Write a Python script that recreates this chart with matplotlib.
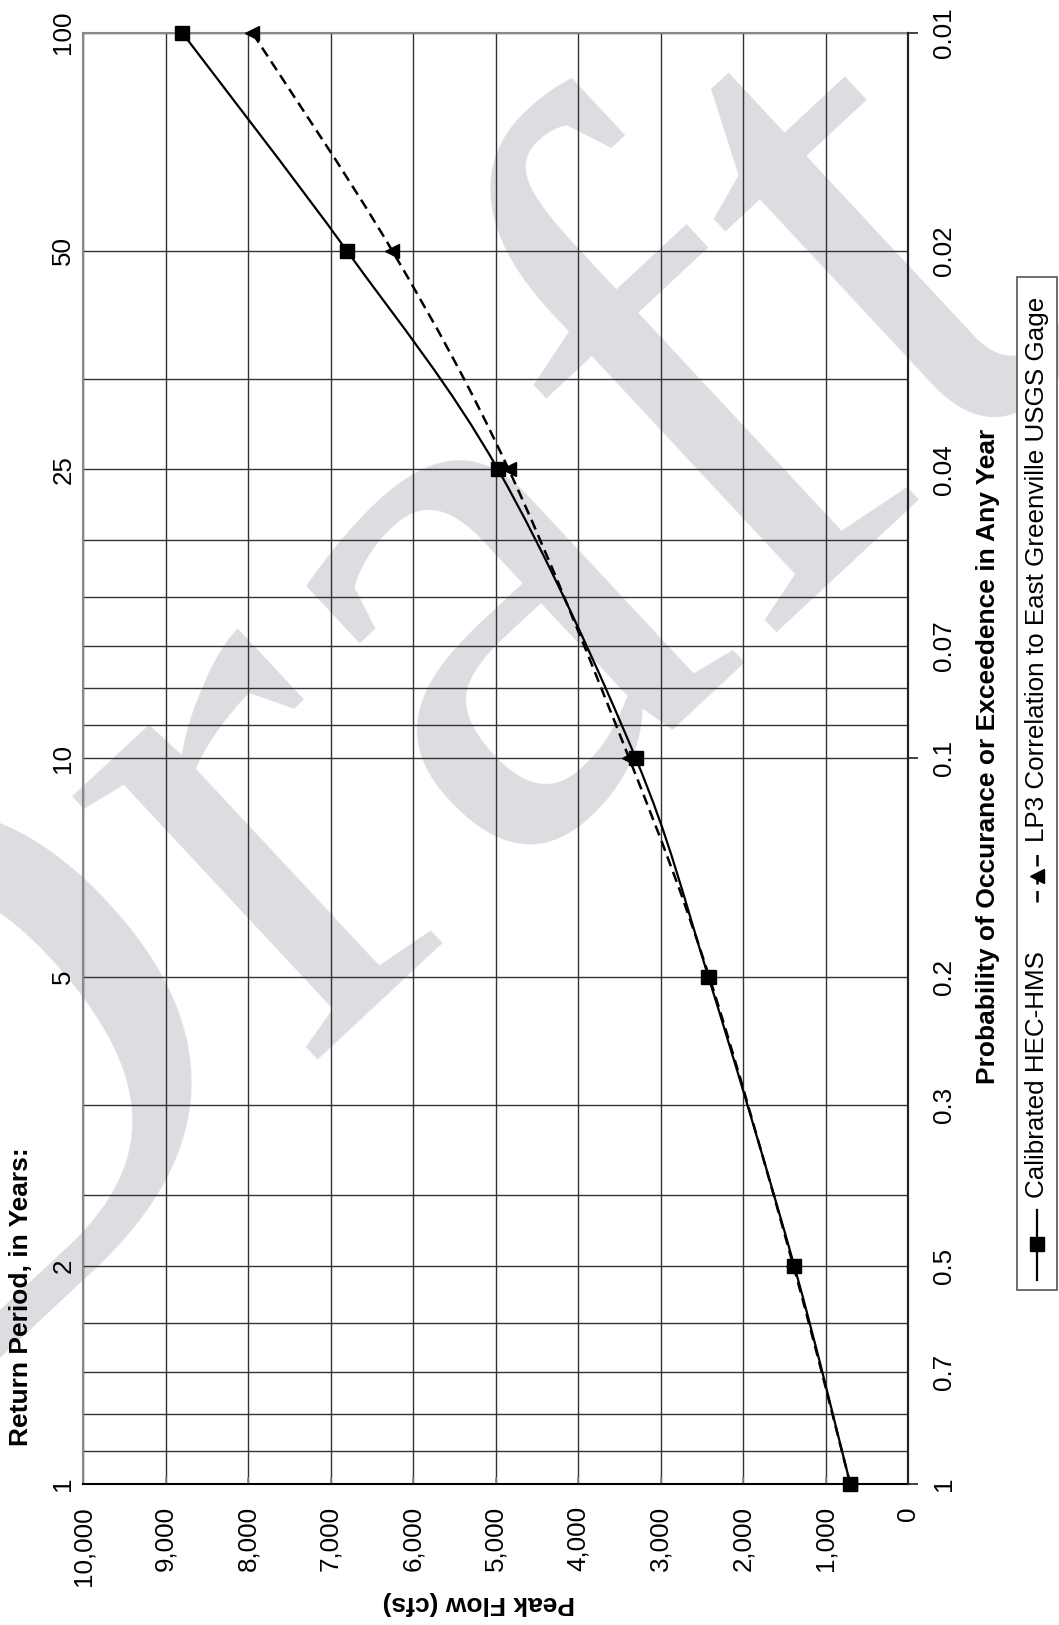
import numpy as np
import matplotlib
matplotlib.use('Agg')
import matplotlib.pyplot as plt
from matplotlib.path import Path
from matplotlib.patches import PathPatch, Rectangle
from matplotlib.lines import Line2D
from matplotlib.ticker import FixedLocator, NullFormatter

plt.rcParams['font.family'] = ['Liberation Sans', 'DejaVu Sans']

# data
return_period = [1, 2, 5, 10, 25, 50, 100]
hec_hms = [700, 1380, 2420, 3300, 4970, 6800, 8800]
lp3_gage = [700, 1390, 2410, 3380, 4840, 6250, 7950]

period_labels = ['1', '2', '5', '10', '25', '50', '100']
prob_grid = [1, 0.9, 0.8, 0.7, 0.6, 0.5, 0.4, 0.3, 0.2, 0.1,
             0.09, 0.08, 0.07, 0.06, 0.05, 0.04, 0.03, 0.02, 0.01]
prob_labels = [1, 0.7, 0.5, 0.3, 0.2, 0.1, 0.07, 0.04, 0.02, 0.01]
flow_ticks = [0, 1000, 2000, 3000, 4000, 5000, 6000, 7000, 8000, 9000, 10000]


def smooth_path(flow, period):
    # Excel style smoothed line: bezier segments, control points from neighbours
    x = np.array(flow, float)
    y = np.log10(period)
    n = len(x)
    verts = [(x[0], y[0])]
    codes = [Path.MOVETO]
    for i in range(n - 1):
        a = max(i - 1, 0)
        b = min(i + 2, n - 1)
        verts.append((x[i] + (x[i + 1] - x[a]) / 6, y[i] + (y[i + 1] - y[a]) / 6))
        verts.append((x[i + 1] - (x[b] - x[i]) / 6, y[i + 1] - (y[b] - y[i]) / 6))
        verts.append((x[i + 1], y[i + 1]))
        codes += [Path.CURVE4] * 3
    verts = np.array(verts)
    verts[:, 1] = 10 ** verts[:, 1]
    return Path(verts, codes)


fig = plt.figure(figsize=(10.59, 16.25), dpi=100)
fig.patch.set_facecolor('white')

# watermark behind everything
fig.text(-0.1065, 0.1132, 'Draft', family='Liberation Serif', fontsize=565,
         color='#dcdde0', rotation=43, rotation_mode='anchor',
         ha='left', va='baseline', zorder=-1)

ax = fig.add_axes([0.07838, 0.08677, 0.77904, 0.89323])
ax.set_facecolor('none')
ax.set_yscale('log')
ax.set_ylim(1, 100)
ax.set_xlim(10000, 0)

ax.set_xticks(flow_ticks, labels=[f'{v:,}' for v in flow_ticks], rotation=90)
ax.tick_params(axis='x', direction='in', length=5, width=1.2, color='#888888',
               labelsize=18.7, pad=16)

ax.yaxis.set_minor_locator(FixedLocator([1 / p for p in prob_grid]))
ax.yaxis.set_minor_formatter(NullFormatter())
ax.set_yticks(return_period, labels=period_labels, rotation=90, va='center')
ax.tick_params(axis='y', which='both', length=0, labelsize=18.7, pad=5.5)

ax.grid(True, which='both', axis='y', color='#333333', lw=1.0)
ax.grid(True, which='major', axis='x', color='#333333', lw=1.0)

for side, col in [('left', '#888888'), ('top', '#888888'), ('bottom', 'black'), ('right', '#222222')]:
    ax.spines[side].set_color(col)
    ax.spines[side].set_linewidth(1.5)

# curves
ax.add_patch(PathPatch(smooth_path(lp3_gage, return_period), fill=False,
                       edgecolor='black', lw=1.8, linestyle=(0, (4.2, 2.4)), zorder=3))
ax.add_patch(PathPatch(smooth_path(hec_hms, return_period), fill=False,
                       edgecolor='black', lw=1.6, zorder=4))
ax.plot(lp3_gage, return_period, '<', color='black', ms=10, zorder=5, clip_on=False)
ax.plot(hec_hms, return_period, 's', color='black', ms=10, zorder=6, clip_on=False)

# probability axis on the right
ax2 = ax.twinx()
ax2.set_yscale('log')
ax2.set_ylim(1, 100)
ax2.yaxis.remove_overlapping_locs = False
ax2.set_yticks([1 / p for p in prob_labels], labels=[f'{p:g}' for p in prob_labels],
               rotation=90, va='center')
ax2.yaxis.set_minor_locator(FixedLocator([1, 10, 100]))
ax2.yaxis.set_minor_formatter(NullFormatter())
ax2.tick_params(axis='y', which='major', length=0, labelsize=18.7, pad=17)
ax2.tick_params(axis='y', which='minor', length=7, width=1.2, color='#222222', direction='out')
for side in ['left', 'top', 'bottom']:
    ax2.spines[side].set_visible(False)
ax2.spines['right'].set_color('#222222')
ax2.spines['right'].set_linewidth(1.5)

# axis titles
fig.text(21 / 1059, 1 - 1297 / 1625, 'Return Period, in Years:', rotation=90,
         fontsize=19, fontweight='bold', ha='center', va='center')
fig.text(988 / 1059, 1 - 756 / 1625, 'Probability of Occurance or Exceedence in Any Year',
         rotation=90, fontsize=19, fontweight='bold', ha='center', va='center')
fig.text(479 / 1059, 1 - 1603 / 1625, 'Peak Flow (cfs)', rotation=180,
         fontsize=19, fontweight='bold', ha='center', va='center')

# legend box, drawn by hand because it is turned on its side
fig.patches.append(Rectangle((1017 / 1059, 1 - 1290 / 1625), 40 / 1059, 1013 / 1625,
                             transform=fig.transFigure, facecolor='white',
                             edgecolor='#555555', lw=1.2, zorder=10))
lx = 1037 / 1059
fig.lines.append(Line2D([lx, lx, lx], [1 - 1280 / 1625, 1 - 1244 / 1625, 1 - 1210 / 1625],
                        transform=fig.transFigure, color='black', lw=1.6,
                        marker='s', ms=10, markevery=[1], zorder=11))
fig.lines.append(Line2D([lx, lx, lx], [1 - 902 / 1625, 1 - 876 / 1625, 1 - 852 / 1625],
                        transform=fig.transFigure, color='black', lw=1.8,
                        linestyle=(0, (4.6, 2.6)), marker='<', ms=10, markevery=[1], zorder=11))
fig.text(lx, 1 - 1198 / 1625, 'Calibrated HEC-HMS', rotation=90, fontsize=18.7,
         ha='center', va='bottom', zorder=12)
fig.text(lx, 1 - 842 / 1625, 'LP3 Correlation to East Greenville USGS Gage', rotation=90,
         fontsize=18.7, ha='center', va='bottom', zorder=12)

fig.savefig('out.png', dpi=100)
